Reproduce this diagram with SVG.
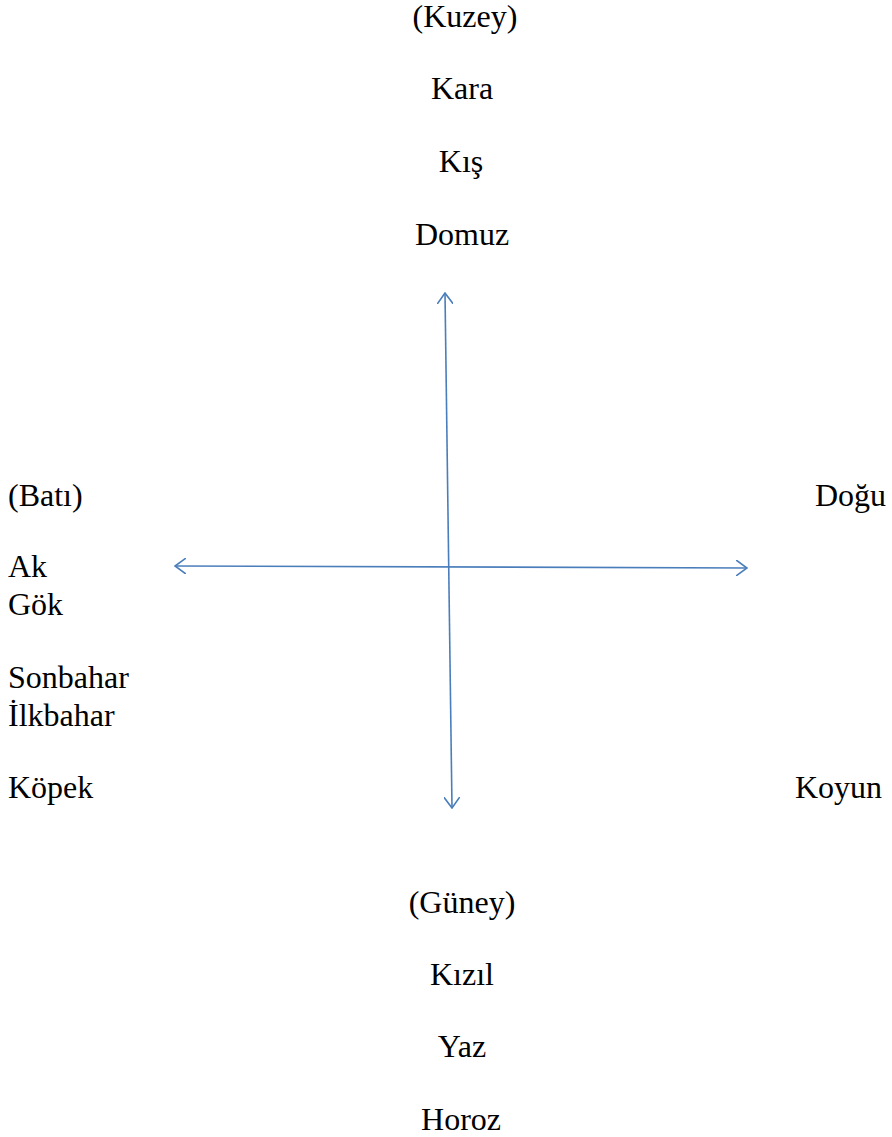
<svg xmlns="http://www.w3.org/2000/svg" width="892" height="1137" viewBox="0 0 892 1137" font-family="'Liberation Serif', Tinos, 'Times New Roman', 'DejaVu Serif', serif">
<style>
text{font-family:"Liberation Serif",Tinos,"Times New Roman","DejaVu Serif",serif;font-size:32px;fill:#000}
.c{text-anchor:middle}
.e{text-anchor:end}
.ax{stroke:#4a7ebb;stroke-width:1.6;fill:none}
</style>
<defs>
<marker id="ah" viewBox="0 0 12 16" refX="11" refY="8" markerWidth="12" markerHeight="16" markerUnits="userSpaceOnUse" orient="auto-start-reverse">
<path d="M0,0 L11,8 L0,16" fill="none" stroke="#4a7ebb" stroke-width="1.6"/>
</marker>
</defs>
<rect width="892" height="1137" fill="#fff"/>
<g id="connectors">
<line class="ax" x1="445" y1="293" x2="452" y2="808" marker-start="url(#ah)" marker-end="url(#ah)"/>
<line class="ax" x1="175" y1="566" x2="747" y2="568" marker-start="url(#ah)" marker-end="url(#ah)"/>
</g>
<g id="north">
<text class="c" x="465" y="27">(Kuzey)</text>
<text class="c" x="462" y="99">Kara</text>
<text class="c" x="461" y="172">Kış</text>
<text class="c" x="462" y="245">Domuz</text>
</g>
<g id="west">
<text x="8" y="506">(Batı)</text>
<text x="8" y="577">Ak</text>
<text x="8" y="615">Gök</text>
<text x="8" y="688">Sonbahar</text>
<text x="8" y="726">İlkbahar</text>
<text x="8" y="798">Köpek</text>
</g>
<g id="east">
<text class="e" x="886" y="506">Doğu</text>
<text class="e" x="882" y="798">Koyun</text>
</g>
<g id="south">
<text class="c" x="462" y="913">(Güney)</text>
<text class="c" x="462" y="985">Kızıl</text>
<text class="c" x="462" y="1057">Yaz</text>
<text class="c" x="461" y="1130">Horoz</text>
</g>
</svg>
